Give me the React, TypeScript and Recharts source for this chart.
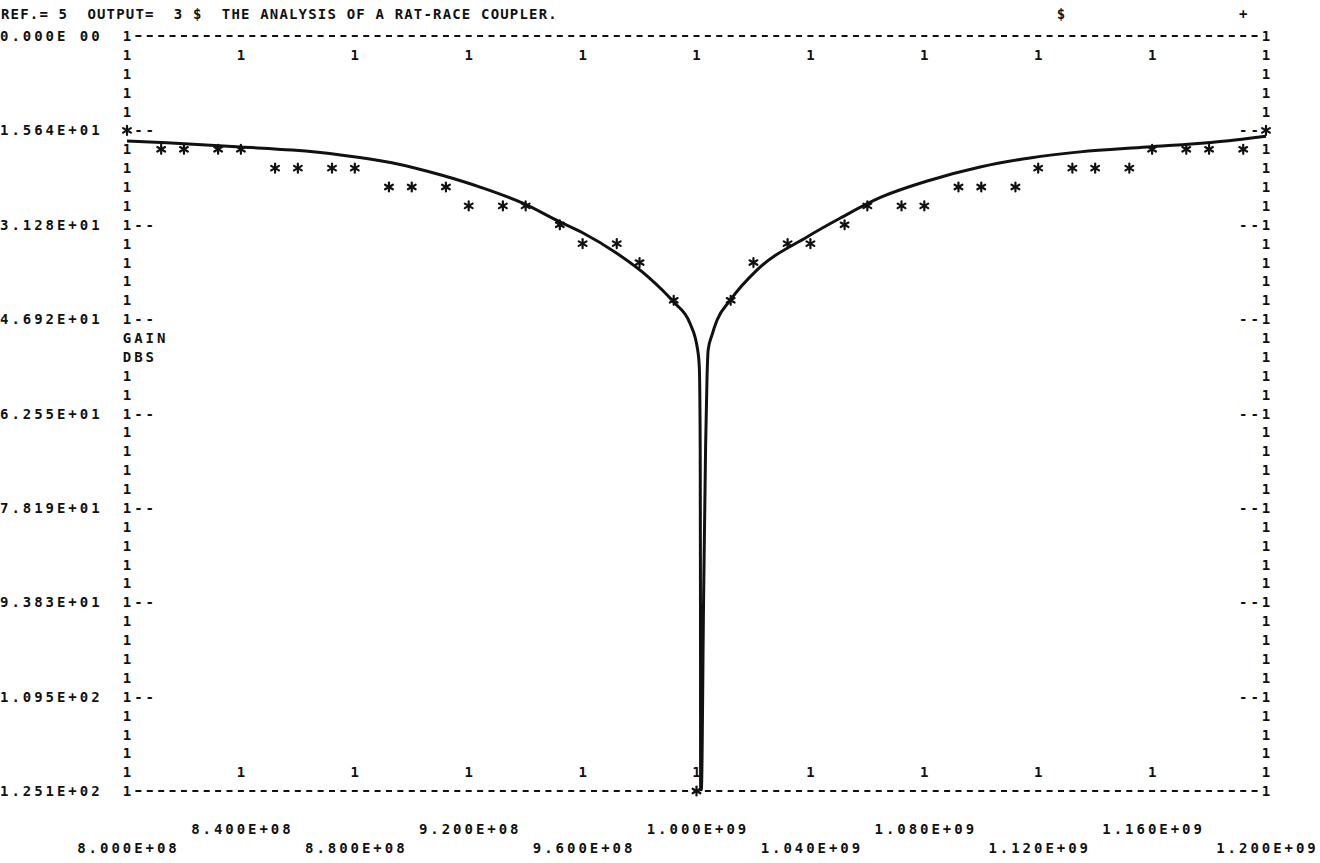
import React from 'react';
import { ComposedChart, Line, Scatter, XAxis, YAxis, ReferenceLine } from 'recharts';

// drawn (theoretical) curve, frequency in MHz vs loss in dB (axis runs downward)
const curveFreq = [800, 814, 840, 858, 875, 893, 910, 925, 939, 952, 960, 972, 983, 992, 997.7, 1000.4, 1001.0, 1001.3, 1001.4, 1001.45,
  1001.7, 1002.5, 1003.2, 1003.7, 1004.1, 1005.4, 1007.2, 1011.8, 1021.2, 1038.8, 1050.4, 1064.4, 1082, 1099.6, 1117.1, 1134.7, 1158.2, 1181.4, 1200];
const curveGain = [17.4, 17.7, 18.4, 18.9, 19.7, 21.0, 23.0, 25.2, 27.7, 30.8, 32.6, 36.0, 39.9, 44.1, 47.6, 52.0, 55.0, 68.0, 95.0, 124.9,
  124.9, 93.0, 68.0, 56.5, 52.0, 49.6, 47.1, 43.8, 38.8, 33.3, 30.2, 26.8, 23.9, 21.7, 20.2, 19.2, 18.4, 17.6, 16.6];

// printed points (*), at the printer's column positions
const starFreq = [800, 812, 820, 832, 840, 852, 860, 872, 880, 892, 900, 912, 920, 932, 940, 952, 960, 972, 980, 992, 1000,
  1012, 1020, 1032, 1040, 1052, 1060, 1072, 1080, 1092, 1100, 1112, 1120, 1132, 1140, 1152, 1160, 1172, 1180, 1192, 1200];
const starGain = [15.64, 18.77, 18.77, 18.77, 18.77, 21.9, 21.9, 21.9, 21.9, 25.02, 25.02, 25.02, 28.15, 28.15, 28.15, 31.28, 34.41, 34.41, 37.54, 43.79, 125.1,
  43.79, 37.54, 34.41, 34.41, 31.28, 28.15, 28.15, 28.15, 25.02, 25.02, 25.02, 21.9, 21.9, 21.9, 21.9, 18.77, 18.77, 18.77, 18.77, 15.64];

const xTicks = [800, 840, 880, 920, 960, 1000, 1040, 1080, 1120, 1160, 1200];
const xTickLabels = ['8.000E+08', '8.400E+08', '8.800E+08', '9.200E+08', '9.600E+08', '1.000E+09',
  '1.040E+09', '1.080E+09', '1.120E+09', '1.160E+09', '1.200E+09'];
const yTicks = [0, 15.64, 31.28, 46.92, 62.55, 78.19, 93.83, 109.5, 125.1];
const yTickLabels = ['0.000E 00', '1.564E+01', '3.128E+01', '4.692E+01', '6.255E+01', '7.819E+01',
  '9.383E+01', '1.095E+02', '1.251E+02'];

const title = 'REF.= 5  OUTPUT=  3 $  THE ANALYSIS OF A RAT-RACE COUPLER.';

// printer rows: 5 lines per labelled interval
const rowTicks: number[] = [];
yTicks.forEach((t, i) => {
  if (i === yTicks.length - 1) { rowTicks.push(t); return; }
  for (let k = 0; k < 5; k++) rowTicks.push(t + (k * (yTicks[i + 1] - t)) / 5);
});

const curveData = curveFreq.map((f, i) => ({ f, v: curveGain[i] }));
const starData = starFreq.map((f, i) => ({ f, v: starGain[i] }));

const W = 1320;
const H = 863;
const LEFT = 127;
const RIGHT = 1266;
const TOP = 36;
const BOTTOM = 791;
const ROW = (BOTTOM - TOP) / 40;
const PITCH = (RIGHT - LEFT) / 100;
const FS = 14;
const HALF = (0.602 * FS) / 2;
const INK = '#111';
const FONT = "'DejaVu Sans Mono', monospace";

// one line of printer text, x is the centre of the first character
const Print = ({ x, y, text, pitch = PITCH }: { x: number; y: number; text: string; pitch?: number }) => (
  <text
    x={Math.max(0, x - HALF)}
    y={y + 5}
    fontFamily={FONT}
    fontSize={FS}
    fontWeight="bold"
    fill={INK}
    style={{ letterSpacing: `${pitch - 0.602 * FS}px`, whiteSpace: 'pre' }}
  >
    {text}
  </text>
);

const rowIndex = (value: number) => rowTicks.findIndex((t) => Math.abs(t - value) < 1e-6);
const starOnBorder = (f: number, value: number) =>
  starData.some((s) => s.f === f && Math.abs(s.v - value) < 0.5);

const LeftTick = (props: any) => {
  const { y, payload } = props;
  const k = rowIndex(payload.value);
  const major = k % 5 === 0;
  let border = '1';
  if (k === 16) border = 'GAIN';
  if (k === 17) border = 'DBS';
  if (starOnBorder(800, payload.value)) border = ' ';
  const dashes = major && k > 0 && k < 40 ? '--' : '';
  return (
    <g>
      {major && <Print x={LEFT - 11 * PITCH} y={y} text={yTickLabels[k / 5]} />}
      <Print x={LEFT} y={y} text={border + dashes} />
    </g>
  );
};

const RightTick = (props: any) => {
  const { y, payload } = props;
  const k = rowIndex(payload.value);
  const major = k % 5 === 0 && k > 0 && k < 40;
  const border = starOnBorder(1200, payload.value) ? ' ' : '1';
  if (major) return <Print x={RIGHT - 2 * PITCH} y={y} text={'--' + border} />;
  return <Print x={RIGHT} y={y} text={border} />;
};

const BottomTick = (props: any) => {
  const { x, index } = props;
  const label = xTickLabels[index];
  const y = index % 2 === 0 ? BOTTOM + 3 * ROW : BOTTOM + 2 * ROW;
  return (
    <g>
      {index > 0 && index < xTicks.length - 1 && <Print x={x} y={BOTTOM - ROW} text="1" />}
      <Print x={x - 4 * PITCH} y={y} text={label} />
    </g>
  );
};

const TopTick = (props: any) => {
  const { x, index } = props;
  if (index === 0 || index === xTicks.length - 1) return <g />;
  return <Print x={x} y={TOP + ROW} text="1" />;
};

const Asterisk = (props: any) => {
  const { cx, cy } = props;
  const r = 4.5;
  const a = r * Math.cos(Math.PI / 6);
  const b = r * Math.sin(Math.PI / 6);
  return (
    <g stroke={INK} strokeWidth={2.2} strokeLinecap="round">
      <line x1={cx} y1={cy - r} x2={cx} y2={cy + r} />
      <line x1={cx - a} y1={cy - b} x2={cx + a} y2={cy + b} />
      <line x1={cx - a} y1={cy + b} x2={cx + a} y2={cy - b} />
    </g>
  );
};

export default function App() {
  const borderDash = { stroke: INK, strokeWidth: 2, strokeDasharray: `6 ${PITCH - 6}` };
  return (
    <div style={{ position: 'absolute', left: 0, top: 0, width: W, height: H, background: '#fff' }}>
      <svg width={W} height={30} style={{ position: 'absolute', left: 0, top: 0 }}>
        <Print x={HALF + 1} y={14} text={title} pitch={9.6} />
        <Print x={LEFT + 82 * PITCH} y={14} text="$" />
        <Print x={RIGHT - 2 * PITCH} y={14} text="+" />
      </svg>
      <ComposedChart width={W} height={H} margin={{ top: 0, right: 0, bottom: 0, left: 0 }}>
        <XAxis
          dataKey="f"
          type="number"
          domain={[800, 1200]}
          ticks={xTicks}
          interval={0}
          height={H - BOTTOM}
          axisLine={false}
          tickLine={false}
          tick={BottomTick}
        />
        <XAxis
          xAxisId="top"
          orientation="top"
          dataKey="f"
          type="number"
          domain={[800, 1200]}
          ticks={xTicks}
          interval={0}
          height={TOP}
          axisLine={false}
          tickLine={false}
          tick={TopTick}
        />
        <YAxis
          type="number"
          domain={[0, 125.1]}
          reversed
          ticks={rowTicks}
          interval={0}
          width={LEFT}
          axisLine={false}
          tickLine={false}
          tick={LeftTick}
        />
        <YAxis
          yAxisId="right"
          orientation="right"
          type="number"
          domain={[0, 125.1]}
          reversed
          ticks={rowTicks}
          interval={0}
          width={W - RIGHT}
          axisLine={false}
          tickLine={false}
          tick={RightTick}
        />
        <ReferenceLine segment={[{ x: 801, y: 0 }, { x: 1199, y: 0 }]} {...borderDash} strokeDashoffset={5.85} />
        <ReferenceLine segment={[{ x: 801, y: 125.1 }, { x: 1199, y: 125.1 }]} {...borderDash} strokeDashoffset={5.85} />
        <Line
          data={curveData}
          dataKey="v"
          type="monotone"
          stroke={INK}
          strokeWidth={3}
          dot={false}
          activeDot={false}
          isAnimationActive={false}
        />
        <Scatter
          data={starData}
          dataKey="v"
          xAxisId="top"
          yAxisId="right"
          shape={Asterisk}
          isAnimationActive={false}
        />
      </ComposedChart>
    </div>
  );
}
